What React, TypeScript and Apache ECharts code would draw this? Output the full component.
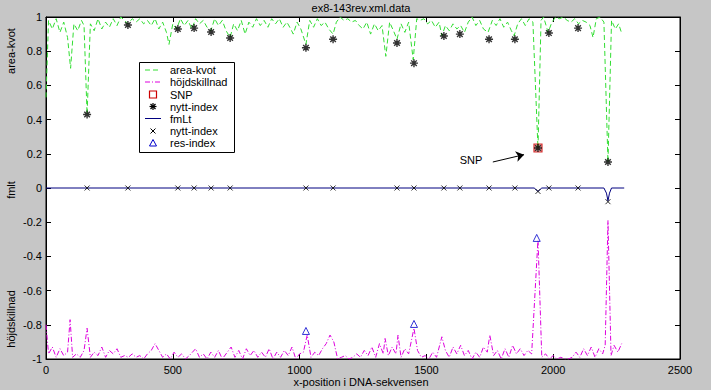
import React, { useEffect, useRef } from 'react';
import * as echarts from 'echarts';

const titleText = 'ex8-143rev.xml.data';
const xName = 'x-position i DNA-sekvensen';
const yNames = ['area-kvot', 'fmlt', 'höjdskillnad'];
const legendNames = ['area-kvot', 'höjdskillnad', 'SNP', 'nytt-index', 'fmLt', 'nytt-index', 'res-index'];
const xTicks = [0, 500, 1000, 1500, 2000, 2500];

const areaX = [0, 10, 25, 40, 55, 70, 85, 97, 110, 125, 140, 150, 162, 175, 190, 205, 220, 235, 250, 265, 280, 295, 310, 323, 340, 355, 370, 385, 400, 415, 430, 445, 460, 475, 485, 500, 515, 530, 545, 560, 575, 590, 605, 620, 635, 650, 665, 680, 695, 710, 726, 740, 755, 770, 785, 800, 815, 830, 845, 860, 875, 890, 905, 920, 935, 950, 965, 975, 990, 1005, 1025, 1040, 1055, 1070, 1085, 1100, 1115, 1132, 1145, 1160, 1175, 1190, 1205, 1220, 1235, 1250, 1265, 1280, 1295, 1310, 1325, 1340, 1355, 1370, 1384, 1400, 1415, 1430, 1448, 1462, 1475, 1490, 1505, 1520, 1535, 1550, 1561, 1575, 1590, 1605, 1620, 1635, 1650, 1665, 1680, 1695, 1710, 1725, 1743, 1760, 1775, 1790, 1805, 1820, 1835, 1846, 1860, 1875, 1890, 1905, 1920, 1940, 1952, 1962, 1972, 1980, 1995, 2010, 2025, 2040, 2055, 2070, 2085, 2100, 2115, 2130, 2145, 2157, 2170, 2185, 2200, 2216, 2230, 2245, 2258, 2271];
const areaY = [0.53, 0.98, 0.93, 0.99, 0.91, 0.97, 0.88, 0.70, 0.96, 0.92, 0.98, 0.95, 0.43, 0.96, 0.92, 0.99, 0.93, 0.97, 0.94, 0.99, 0.95, 1.0, 0.98, 0.96, 0.99, 0.97, 0.99, 0.96, 0.98, 0.95, 0.99, 0.93, 0.97, 0.91, 0.84, 0.96, 0.93, 0.99, 0.95, 0.98, 0.93, 0.99, 0.96, 0.98, 0.94, 0.92, 0.99, 0.95, 0.98, 0.92, 0.88, 0.96, 0.92, 0.98, 0.90, 0.97, 0.94, 0.99, 0.95, 0.98, 0.94, 0.99, 0.96, 0.99, 0.94, 0.97, 0.93, 0.90, 0.97, 0.93, 0.84, 0.98, 0.94, 0.99, 0.95, 0.97, 0.93, 0.90, 0.97, 1.0, 0.98, 0.99, 0.97, 0.98, 0.95, 0.93, 0.97, 0.90, 0.96, 0.92, 0.95, 0.77, 0.97, 0.92, 0.87, 0.96, 0.91, 0.97, 0.75, 0.99, 0.98, 0.99, 0.96, 0.98, 0.94, 0.97, 0.89, 0.95, 0.92, 0.96, 0.93, 0.95, 0.91, 0.97, 1.0, 0.95, 0.98, 0.93, 0.91, 0.98, 0.95, 0.99, 0.94, 0.97, 0.92, 0.89, 0.96, 0.99, 0.95, 0.99, 0.97, 0.23, 0.98, 1.0, 0.95, 0.91, 0.97, 1.0, 0.99, 1.0, 0.98, 0.97, 0.99, 0.96, 0.98, 0.97, 0.95, 0.88, 0.99, 1.0, 0.97, 0.15, 0.98, 0.93, 0.96, 0.90];

const heightX = [0, 10, 25, 40, 55, 70, 85, 95, 105, 120, 135, 150, 162, 175, 190, 205, 220, 235, 250, 265, 280, 295, 310, 325, 340, 355, 370, 385, 400, 415, 430, 445, 460, 475, 490, 505, 520, 535, 550, 565, 590, 605, 620, 635, 650, 665, 680, 695, 710, 730, 745, 760, 775, 790, 805, 820, 835, 850, 865, 880, 895, 910, 925, 940, 955, 970, 985, 1000, 1015, 1030, 1045, 1060, 1075, 1090, 1105, 1120, 1135, 1150, 1165, 1180, 1195, 1210, 1225, 1240, 1255, 1270, 1285, 1300, 1315, 1330, 1337, 1350, 1365, 1380, 1388, 1400, 1415, 1430, 1451, 1465, 1480, 1495, 1510, 1525, 1540, 1561, 1575, 1590, 1605, 1620, 1635, 1650, 1665, 1680, 1695, 1710, 1725, 1740, 1750, 1765, 1780, 1795, 1810, 1825, 1840, 1855, 1870, 1885, 1900, 1915, 1940, 1955, 1970, 1985, 2000, 2015, 2030, 2045, 2060, 2075, 2090, 2105, 2120, 2135, 2150, 2165, 2180, 2195, 2205, 2216, 2228, 2240, 2255, 2270];
const heightY = [-0.80, -0.97, -0.93, -0.99, -0.94, -0.98, -0.96, -0.77, -0.99, -0.97, -0.99, -0.95, -0.82, -0.99, -0.96, -0.98, -0.93, -0.99, -0.95, -0.97, -0.94, -0.99, -0.98, -0.99, -0.97, -0.99, -0.98, -1.0, -0.97, -0.95, -0.91, -0.95, -0.99, -0.97, -1.0, -0.96, -0.99, -0.97, -1.0, -0.98, -0.94, -0.99, -0.97, -1.0, -0.96, -0.99, -0.95, -1.0, -0.97, -0.93, -0.99, -0.95, -1.0, -0.94, -0.98, -0.95, -0.99, -0.96, -0.99, -0.94, -1.0, -0.96, -0.99, -0.95, -0.98, -0.93, -1.0, -0.97, -0.96, -0.86, -0.99, -0.96, -0.98, -0.94, -0.91, -0.86, -0.90, -1.0, -0.99, -0.98, -1.0, -0.99, -0.97, -0.99, -0.95, -0.98, -0.93, -0.99, -0.91, -0.97, -0.88, -0.98, -0.93, -0.97, -0.86, -0.99, -0.94, -0.97, -0.82, -0.95, -0.99, -0.98, -1.0, -0.96, -0.99, -0.87, -0.95, -0.99, -0.93, -0.97, -0.92, -0.98, -0.95, -1.0, -0.96, -0.99, -0.93, -0.96, -0.86, -0.98, -0.95, -1.0, -0.94, -0.99, -0.92, -0.97, -0.94, -0.98, -0.95, -0.97, -0.30, -0.99, -0.97, -1.0, -0.98, -1.0, -0.99, -1.0, -1.0, -0.99, -0.96, -0.99, -0.94, -0.98, -0.93, -0.99, -0.94, -0.97, -0.92, -0.19, -0.98, -0.92, -0.96, -0.91];

const fmX = [0, 1925, 1940, 1955, 2200, 2210, 2216, 2222, 2230, 2280];
const fmY = [0, 0, -0.02, 0, 0, -0.03, -0.075, -0.03, 0, 0];

const idxX = [162, 323, 520, 584, 651, 726, 1025, 1132, 1384, 1451, 1569, 1632, 1747, 1849, 1940, 1983, 2098, 2216];
const idxArea = [0.43, 0.953, 0.93, 0.935, 0.912, 0.877, 0.82, 0.87, 0.848, 0.73, 0.889, 0.9, 0.87, 0.87, 0.234, 0.906, 0.935, 0.152];
const idxFm = [0, 0, 0, 0, 0, 0, 0, 0, 0, 0, 0, 0, 0, 0, -0.02, 0, 0, -0.08];

const snpX = [1940];
const snpY = [0.234];

const resX = [1025, 1451, 1935];
const resY = [-0.836, -0.795, -0.292];

const snpLabelAt = [1676, 0.164];
const snpArrowFrom = [1762, 0.152];
const snpArrowTo = [1885, 0.195];

const FONT = '"Liberation Sans", Arial, sans-serif';
const STAR = 'path://M5,0L5,10M0,5L10,5M1.5,1.5L8.5,8.5M8.5,1.5L1.5,8.5';
const CROSS = 'path://M0,0L10,10M10,0L0,10';
const GREEN = '#33dd33';
const MAGENTA = '#dd00dd';
const NAVY = '#000080';

const zip = (xs: number[], ys: number[]) => xs.map((x, i) => [x, ys[i]]);

export default function App() {
  const ref = useRef<HTMLDivElement>(null);
  useEffect(() => {
    const chart = echarts.init(ref.current!, null, { renderer: 'svg' });
    const rows = [70, 82, 94.5, 106.5, 118.5, 131, 143];
    const lx0 = 145, lx1 = 161, lxc = 153, tx = 170;
    const seg = (x1: number, y1: number, x2: number, y2: number, stroke: string, w: number) =>
      ({ type: 'line', z: 102, shape: { x1, y1, x2, y2 }, style: { stroke, lineWidth: w } });
    const legendGraphics: any[] = [
      { type: 'rect', z: 100, shape: { x: 139.5, y: 62.5, width: 95, height: 90 }, style: { fill: '#fff', stroke: '#000', lineWidth: 1 } },
      { type: 'line', z: 101, shape: { x1: lx0, y1: rows[0], x2: lx1, y2: rows[0] }, style: { stroke: GREEN, lineWidth: 1, lineDash: [5, 3] } },
      { type: 'line', z: 101, shape: { x1: lx0, y1: rows[1], x2: lx1, y2: rows[1] }, style: { stroke: MAGENTA, lineWidth: 1, lineDash: [5, 2, 1, 2] } },
      { type: 'rect', z: 101, shape: { x: lxc - 3.5, y: rows[2] - 3.5, width: 7, height: 7 }, style: { fill: 'none', stroke: '#cc0000', lineWidth: 1.2 } },
      seg(lxc - 3.5, rows[3], lxc + 3.5, rows[3], '#000', 1.2),
      seg(lxc, rows[3] - 3.5, lxc, rows[3] + 3.5, '#000', 1.2),
      seg(lxc - 2.5, rows[3] - 2.5, lxc + 2.5, rows[3] + 2.5, '#000', 1.2),
      seg(lxc + 2.5, rows[3] - 2.5, lxc - 2.5, rows[3] + 2.5, '#000', 1.2),
      { type: 'line', z: 101, shape: { x1: lx0, y1: rows[4], x2: lx1, y2: rows[4] }, style: { stroke: NAVY, lineWidth: 1 } },
      seg(lxc - 2.5, rows[5] - 2.5, lxc + 2.5, rows[5] + 2.5, '#000', 1),
      seg(lxc + 2.5, rows[5] - 2.5, lxc - 2.5, rows[5] + 2.5, '#000', 1),
      { type: 'polygon', z: 101, shape: { points: [[lxc, rows[6] - 3.5], [lxc + 3.5, rows[6] + 3], [lxc - 3.5, rows[6] + 3]] }, style: { fill: 'none', stroke: '#0000cc', lineWidth: 1 } },
      ...legendNames.map((n, i) => ({ type: 'text', z: 101, x: tx, y: rows[i], style: { text: n, fill: '#000', font: `11px ${FONT}`, verticalAlign: 'middle', align: 'left' } })),
    ];
    const textGraphics: any[] = [
      { type: 'text', x: 361, y: 8, style: { text: titleText, fill: '#000', font: `11px ${FONT}`, align: 'center', verticalAlign: 'middle' } },
      { type: 'text', x: 361, y: 382, style: { text: xName, fill: '#000', font: `11px ${FONT}`, align: 'center', verticalAlign: 'middle' } },
      { type: 'text', x: 11, y: 51, rotation: Math.PI / 2, style: { text: yNames[0], fill: '#000', font: `11px ${FONT}`, align: 'center', verticalAlign: 'middle' } },
      { type: 'text', x: 11, y: 190, rotation: Math.PI / 2, style: { text: yNames[1], fill: '#000', font: `11px ${FONT}`, align: 'center', verticalAlign: 'middle' } },
      { type: 'text', x: 11, y: 319, rotation: Math.PI / 2, style: { text: yNames[2], fill: '#000', font: `11px ${FONT}`, align: 'center', verticalAlign: 'middle' } },
    ];
    const axisCommon = {
      type: 'value',
      axisLine: { show: true, onZero: false, lineStyle: { color: '#000', width: 1 } },
      axisTick: { show: true, inside: true, length: 5, lineStyle: { color: '#000' } },
      splitLine: { show: false },
    };
    chart.setOption({
      animation: false,
      backgroundColor: '#c6c6c6',
      grid: { left: 46, right: 31, top: 17, bottom: 31, show: true, backgroundColor: '#fff', borderColor: '#000', borderWidth: 1 },
      xAxis: [
        { ...axisCommon, position: 'bottom', min: xTicks[0], max: xTicks[xTicks.length - 1], interval: 500,
          axisLabel: { color: '#000', fontSize: 11, fontFamily: FONT, margin: 5, formatter: (v: number) => String(v) } },
        { ...axisCommon, position: 'top', min: xTicks[0], max: xTicks[xTicks.length - 1], interval: 500, axisLabel: { show: false } },
      ],
      yAxis: [
        { ...axisCommon, position: 'left', min: -1, max: 1, interval: 0.2,
          axisLabel: { color: '#000', fontSize: 11, fontFamily: FONT, margin: 4, formatter: (v: number) => String(Number(v.toFixed(1))) } },
        { ...axisCommon, position: 'right', min: -1, max: 1, interval: 0.2, axisLabel: { show: false } },
      ],
      series: [
        { name: 'area-kvot', type: 'line', data: zip(areaX, areaY), showSymbol: false, symbol: 'none',
          lineStyle: { color: GREEN, width: 1, type: [5, 3] }, z: 2 },
        { name: 'höjdskillnad', type: 'line', data: zip(heightX, heightY), showSymbol: false, symbol: 'none',
          lineStyle: { color: MAGENTA, width: 1, type: [5, 2, 1, 2] }, z: 2 },
        { name: 'fmLt', type: 'line', data: zip(fmX, fmY), showSymbol: false, symbol: 'none',
          lineStyle: { color: NAVY, width: 1 }, z: 3 },
        { name: 'SNP', type: 'scatter', data: zip(snpX, snpY), symbol: 'rect', symbolSize: 8,
          itemStyle: { color: 'rgba(180,0,0,0.35)', borderColor: '#cc0000', borderWidth: 1.2 }, z: 4,
          markLine: {
            silent: true, symbol: ['none', 'arrow'], symbolSize: 8,
            lineStyle: { color: '#000', width: 1, type: 'solid' }, label: { show: false },
            data: [[{ coord: snpArrowFrom, symbol: 'none' }, { coord: snpArrowTo, symbol: 'arrow' }]],
          },
          markPoint: {
            silent: true, symbol: 'circle', symbolSize: 1, itemStyle: { color: 'rgba(0,0,0,0)' },
            label: { show: true, position: 'inside', formatter: 'SNP', color: '#000', fontSize: 11, fontFamily: FONT },
            data: [{ coord: snpLabelAt }],
          },
        },
        { name: 'nytt-index', type: 'scatter', data: zip(idxX, idxArea), symbol: STAR, symbolSize: 8,
          itemStyle: { color: 'rgba(0,0,0,0)', borderColor: '#000', borderWidth: 1.4 }, z: 5 },
        { name: 'nytt-index-fm', type: 'scatter', data: zip(idxX, idxFm), symbol: CROSS, symbolSize: 5,
          itemStyle: { color: 'rgba(0,0,0,0)', borderColor: '#000', borderWidth: 1 }, z: 5 },
        { name: 'res-index', type: 'scatter', data: zip(resX, resY), symbol: 'triangle', symbolSize: 7,
          itemStyle: { color: '#fff', borderColor: '#0000cc', borderWidth: 1 }, z: 5 },
      ],
      graphic: [...textGraphics, ...legendGraphics],
    });
    return () => chart.dispose();
  }, []);
  return <div ref={ref} style={{ position: 'fixed', left: 0, top: 0, width: 711, height: 390 }} />;
}
